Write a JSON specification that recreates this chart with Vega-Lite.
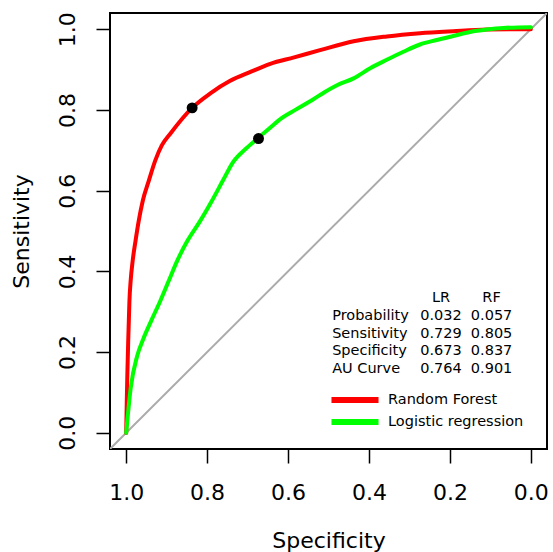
{
  "$schema": "https://vega.github.io/schema/vega-lite/v6.json",
  "autosize": {"type": "none"},
  "padding": {"left": 110, "top": 13, "right": 6, "bottom": 103},
  "width": 437,
  "height": 436,
  "background": "white",
  "config": {
    "font": "DejaVu Sans",
    "view": {"stroke": "black", "strokeWidth": 2}
  },
  "datasets": {
    "roc": [
      {"model": "Random Forest", "spec": 1.0, "sens": 0.0},
      {"model": "Random Forest", "spec": 0.9985, "sens": 0.08},
      {"model": "Random Forest", "spec": 0.997, "sens": 0.15},
      {"model": "Random Forest", "spec": 0.995, "sens": 0.227},
      {"model": "Random Forest", "spec": 0.9935, "sens": 0.276},
      {"model": "Random Forest", "spec": 0.992, "sens": 0.326},
      {"model": "Random Forest", "spec": 0.989, "sens": 0.376},
      {"model": "Random Forest", "spec": 0.984, "sens": 0.426},
      {"model": "Random Forest", "spec": 0.977, "sens": 0.475},
      {"model": "Random Forest", "spec": 0.969, "sens": 0.525},
      {"model": "Random Forest", "spec": 0.959, "sens": 0.575},
      {"model": "Random Forest", "spec": 0.944, "sens": 0.625},
      {"model": "Random Forest", "spec": 0.928, "sens": 0.675},
      {"model": "Random Forest", "spec": 0.912, "sens": 0.712},
      {"model": "Random Forest", "spec": 0.891, "sens": 0.741},
      {"model": "Random Forest", "spec": 0.837, "sens": 0.805},
      {"model": "Random Forest", "spec": 0.792, "sens": 0.841},
      {"model": "Random Forest", "spec": 0.743, "sens": 0.872},
      {"model": "Random Forest", "spec": 0.693, "sens": 0.894},
      {"model": "Random Forest", "spec": 0.644, "sens": 0.914},
      {"model": "Random Forest", "spec": 0.585, "sens": 0.93},
      {"model": "Random Forest", "spec": 0.521, "sens": 0.948},
      {"model": "Random Forest", "spec": 0.438, "sens": 0.97},
      {"model": "Random Forest", "spec": 0.356, "sens": 0.982},
      {"model": "Random Forest", "spec": 0.274, "sens": 0.99},
      {"model": "Random Forest", "spec": 0.192, "sens": 0.995},
      {"model": "Random Forest", "spec": 0.109, "sens": 0.999},
      {"model": "Random Forest", "spec": 0.0, "sens": 1.0},
      {"model": "Logistic regression", "spec": 1.0, "sens": 0.0},
      {"model": "Logistic regression", "spec": 0.9975, "sens": 0.027},
      {"model": "Logistic regression", "spec": 0.989, "sens": 0.11},
      {"model": "Logistic regression", "spec": 0.973, "sens": 0.19},
      {"model": "Logistic regression", "spec": 0.958, "sens": 0.232},
      {"model": "Logistic regression", "spec": 0.938, "sens": 0.278},
      {"model": "Logistic regression", "spec": 0.916, "sens": 0.326},
      {"model": "Logistic regression", "spec": 0.895, "sens": 0.376},
      {"model": "Logistic regression", "spec": 0.874, "sens": 0.426},
      {"model": "Logistic regression", "spec": 0.849, "sens": 0.475},
      {"model": "Logistic regression", "spec": 0.817, "sens": 0.525},
      {"model": "Logistic regression", "spec": 0.788, "sens": 0.575},
      {"model": "Logistic regression", "spec": 0.761, "sens": 0.625},
      {"model": "Logistic regression", "spec": 0.735, "sens": 0.672},
      {"model": "Logistic regression", "spec": 0.703, "sens": 0.705},
      {"model": "Logistic regression", "spec": 0.673, "sens": 0.731},
      {"model": "Logistic regression", "spec": 0.645, "sens": 0.755},
      {"model": "Logistic regression", "spec": 0.615, "sens": 0.78},
      {"model": "Logistic regression", "spec": 0.582, "sens": 0.8},
      {"model": "Logistic regression", "spec": 0.541, "sens": 0.824},
      {"model": "Logistic regression", "spec": 0.508, "sens": 0.845},
      {"model": "Logistic regression", "spec": 0.479, "sens": 0.861},
      {"model": "Logistic regression", "spec": 0.438, "sens": 0.878},
      {"model": "Logistic regression", "spec": 0.397, "sens": 0.903},
      {"model": "Logistic regression", "spec": 0.356, "sens": 0.924},
      {"model": "Logistic regression", "spec": 0.315, "sens": 0.944},
      {"model": "Logistic regression", "spec": 0.274, "sens": 0.962},
      {"model": "Logistic regression", "spec": 0.233, "sens": 0.973},
      {"model": "Logistic regression", "spec": 0.192, "sens": 0.983},
      {"model": "Logistic regression", "spec": 0.15, "sens": 0.993},
      {"model": "Logistic regression", "spec": 0.109, "sens": 0.999},
      {"model": "Logistic regression", "spec": 0.068, "sens": 1.003},
      {"model": "Logistic regression", "spec": 0.0, "sens": 1.005}
    ],
    "cut": [
      {"model": "Random Forest", "spec": 0.837, "sens": 0.805},
      {"model": "Logistic regression", "spec": 0.673, "sens": 0.729}
    ],
    "diag": [
      {"spec": 1.04, "sens": -0.04},
      {"spec": -0.04, "sens": 1.04}
    ],
    "table": [
      {"row": "head", "label": "", "LR": "LR", "RF": "RF"},
      {"row": "Probability", "label": "Probability", "LR": "0.032", "RF": "0.057"},
      {"row": "Sensitivity", "label": "Sensitivity", "LR": "0.729", "RF": "0.805"},
      {"row": "Specificity", "label": "Specificity", "LR": "0.673", "RF": "0.837"},
      {"row": "AU Curve", "label": "AU Curve", "LR": "0.764", "RF": "0.901"}
    ]
  },
  "layer": [
    {
      "encoding": {
        "x": {
          "field": "spec", "type": "quantitative",
          "scale": {"domain": [1.04, -0.04], "nice": false, "zero": false},
          "axis": {
            "title": "Specificity", "values": [1, 0.8, 0.6, 0.4, 0.2, 0], "format": ".1f",
            "grid": false, "domain": false, "tickSize": 14, "tickWidth": 1.5, "tickColor": "black",
            "labelFontSize": 22, "labelColor": "black", "labelPadding": 19, "labelFlush": false,
            "titleFontSize": 22, "titleFontWeight": "normal", "titleColor": "black", "titlePadding": 27
          }
        },
        "y": {
          "field": "sens", "type": "quantitative",
          "scale": {"domain": [-0.04, 1.04], "nice": false, "zero": false},
          "axis": {
            "title": "Sensitivity", "values": [0, 0.2, 0.4, 0.6, 0.8, 1], "format": ".1f",
            "grid": false, "domain": false, "tickSize": 14, "tickWidth": 1.5, "tickColor": "black",
            "labelFontSize": 22, "labelColor": "black", "labelAngle": -90, "labelAlign": "center",
            "labelBaseline": "alphabetic", "labelPadding": 22, "labelFlush": false,
            "titleFontSize": 22, "titleFontWeight": "normal", "titleColor": "black", "titlePadding": 23
          }
        }
      },
      "layer": [
        {
          "data": {"name": "diag"},
          "mark": {"type": "line", "color": "#ababab", "strokeWidth": 2, "clip": true}
        },
        {
          "data": {"name": "roc"},
          "mark": {"type": "line", "strokeWidth": 4, "strokeCap": "round", "interpolate": "monotone"},
          "encoding": {
            "color": {
              "field": "model", "type": "nominal",
              "scale": {"domain": ["Random Forest", "Logistic regression"], "range": ["#ff0000", "#00ff00"]},
              "legend": {
                "title": null, "orient": "none", "legendX": 235, "legendY": 377,
                "symbolType": "M-3.36,0H3.36", "symbolStrokeWidth": 6, "symbolSize": 196,
                "labelFontSize": 14.5, "labelColor": "black", "labelOffset": 23, "rowPadding": -6, "padding": 0
              }
            }
          }
        },
        {
          "data": {"name": "cut"},
          "mark": {"type": "circle", "color": "black", "opacity": 1, "size": 120}
        }
      ]
    },
    {
      "data": {"name": "table"},
      "encoding": {
        "y": {
          "field": "row", "type": "ordinal",
          "scale": {"type": "point", "domain": ["head", "Probability", "Sensitivity", "Specificity", "AU Curve"], "range": [285, 356], "padding": 0},
          "axis": null
        }
      },
      "layer": [
        {
          "mark": {"type": "text", "align": "left", "baseline": "middle", "fontSize": 14.5, "color": "black"},
          "encoding": {"x": {"datum": 0.491, "type": "quantitative"}, "text": {"field": "label"}}
        },
        {
          "mark": {"type": "text", "align": "center", "baseline": "middle", "fontSize": 14.5, "color": "black"},
          "encoding": {"x": {"datum": 0.222, "type": "quantitative"}, "text": {"field": "LR"}}
        },
        {
          "mark": {"type": "text", "align": "center", "baseline": "middle", "fontSize": 14.5, "color": "black"},
          "encoding": {"x": {"datum": 0.097, "type": "quantitative"}, "text": {"field": "RF"}}
        }
      ]
    }
  ],
  "resolve": {"scale": {"y": "independent"}, "axis": {"y": "independent"}}
}
